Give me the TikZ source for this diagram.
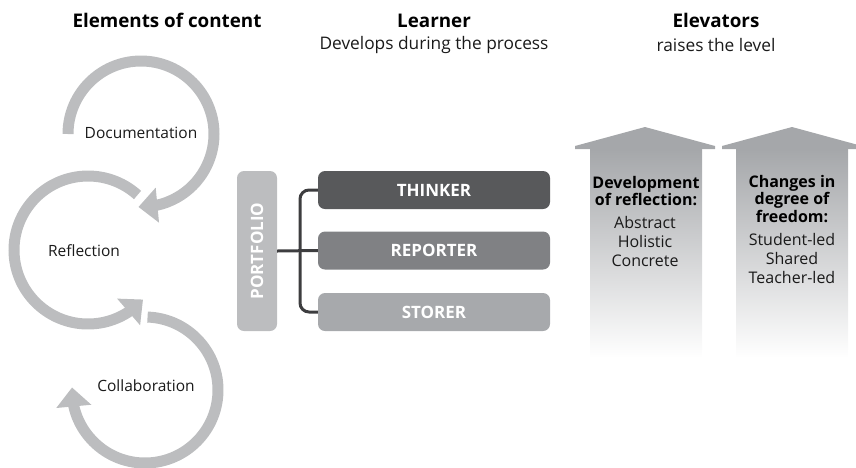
\documentclass[tikz,border=0pt]{standalone}
\usepackage{fontspec}
\setmainfont{Open Sans}
\usetikzlibrary{arrows.meta,bending}
\definecolor{arcgray}{HTML}{BCBDBF}
\definecolor{thinkc}{HTML}{58595B}
\definecolor{reportc}{HTML}{808184}
\definecolor{storec}{HTML}{A7A9AC}
\definecolor{linkc}{HTML}{3D3D3F}
\definecolor{elevc}{HTML}{A5A7AA}
\definecolor{inktext}{HTML}{1A1A1A}

\begin{document}
\begin{tikzpicture}[x=1pt,y=1pt,
  hdr/.style={font=\fontsize{18.8}{22}\selectfont\bfseries, text=black},
  sub/.style={font=\fontsize{17.3}{20}\selectfont, text=inktext},
  cyclabel/.style={font=\fontsize{15.5}{18}\selectfont, text=inktext},
  cyc/.style={draw=arcgray, line width=11pt, -{Triangle[width=34pt,length=19pt]}},
  rolebox/.style={rounded corners=7pt, minimum width=232pt, minimum height=38pt,
    text=white, font=\fontsize{17}{20}\selectfont\bfseries},
  link/.style={draw=linkc, line width=3pt, rounded corners=9pt},
  elevtext/.style={align=center, text=inktext, font=\fontsize{16}{19}\selectfont},
  elevhead/.style={align=center, text=black, font=\fontsize{16}{17.5}\selectfont\bfseries}
]
\useasboundingbox (0,0) rectangle (856,-467);

% column headings
\node[hdr] (hcontent) at (167,-20) {Elements of content};
\node[hdr] (hlearner) at (434,-21) {Learner};
\node[sub] (slearner) at (434,-45.5) {Develops during the process};
\node[hdr] (helev) at (716,-20.5) {Elevators};
\node[sub] (selev) at (716,-45) {raises the level};

% cycle of content elements
\draw[cyc] (68,-134) arc[start angle=180, end angle=-92, radius=73];
\draw[cyc] ([shift={(48:74)}]88,-250) arc[start angle=48, end angle=318, radius=74];
\draw[cyc] ([shift={(88:73)}]145,-390) arc[start angle=88, end angle=-182, radius=73];
\node[cyclabel] (doc) at (141,-133) {Documentation};
\node[cyclabel] (refl) at (84,-251) {Reflection};
\node[cyclabel] (coll) at (146,-386) {Collaboration};

% portfolio and learner roles
\node[fill=arcgray, rounded corners=7pt, minimum width=40pt, minimum height=160pt,
  text=white, font=\fontsize{17}{20}\selectfont\bfseries] (portfolio) at (257,-251)
  {\rotatebox{90}{PORTFOLIO}};
\node[rolebox, fill=thinkc] (thinker) at (434,-190) {THINKER};
\node[rolebox, fill=reportc] (reporter) at (434,-250.5) {REPORTER};
\node[rolebox, fill=storec] (storer) at (434,-312) {STORER};
\coordinate (bx) at (300,0);
\draw[link] (thinker.west) -- (thinker.west -| bx) -- (storer.west -| bx) -- (storer.west);
\draw[draw=linkc, line width=3pt] (portfolio.east) -- (reporter.west);

% elevator arrows
\shade[top color=elevc, bottom color=white] (590,-149) rectangle (702,-358);
\fill[elevc] (575,-149) -- (575,-146) -- (645,-127) -- (715,-146) -- (715,-149) -- cycle;
\shade[top color=elevc, bottom color=white] (736,-149) rectangle (848,-358);
\fill[elevc] (722,-149) -- (722,-146) -- (792,-127) -- (862,-146) -- (862,-149) -- cycle;

\node[elevhead] (devref) at (646,-191) {Development\\of reflection:};
\node[elevtext] (levels) at (645,-241) {Abstract\\Holistic\\Concrete};
\node[elevhead] (chfree) at (792,-199) {Changes in\\degree of\\freedom:};
\node[elevtext] (freedom) at (792,-258) {Student-led\\Shared\\Teacher-led};
\end{tikzpicture}
\end{document}
